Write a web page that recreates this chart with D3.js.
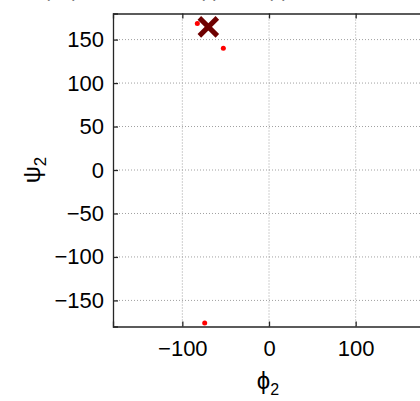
<!DOCTYPE html>
<html><head><meta charset="utf-8">
<script src="https://cdn.jsdelivr.net/npm/d3@7"></script>
<style>
body{margin:0;background:#fff;}
svg{display:block;}
text{font-family:"Liberation Sans",Arial,sans-serif;}
</style></head>
<body>
<svg id="c" width="420" height="401"></svg>
<script>
// data
const phi = [-82.7, -52.7, -74.2];
const psi = [168.5, 140, -176];
const markerPhi = [-70];
const markerPsi = [164.6];
const ticks = [-150, -100, -50, 0, 50, 100, 150];
const xTicks = [-100, 0, 100];

const svg = d3.select("#c");
const x = d3.scaleLinear().domain([-180, 180]).range([113, 425]);
const y = d3.scaleLinear().domain([-180, 180]).range([326.5, 13.5]);
const fmt = d => (d < 0 ? "\u2212" : "") + Math.abs(d);

// grid
const g = svg.append("g");
g.selectAll(".gx").data(xTicks).join("line")
  .attr("x1", d => x(d)).attr("x2", d => x(d))
  .attr("y1", y(180)).attr("y2", y(-180))
  .attr("stroke", "#a0a0a0").attr("stroke-width", 1).attr("stroke-dasharray", "1,2");
g.selectAll(".gy").data(ticks).join("line")
  .attr("x1", x(-180)).attr("x2", x(180))
  .attr("y1", d => y(d)).attr("y2", d => y(d))
  .attr("stroke", "#a0a0a0").attr("stroke-width", 1).attr("stroke-dasharray", "1,2");

// axes
const ax = svg.append("g").attr("transform", `translate(0,${y(-180)})`)
  .call(d3.axisBottom(x).tickValues(xTicks).tickSize(-5).tickPadding(14).tickFormat(fmt));
const axTop = svg.append("g").attr("transform", `translate(0,${y(180)})`)
  .call(d3.axisTop(x).tickValues(xTicks).tickSize(-5).tickFormat(""));
const ay = svg.append("g").attr("transform", `translate(${x(-180)},0)`)
  .call(d3.axisLeft(y).tickValues(ticks).tickSize(-5).tickPadding(9).tickFormat(fmt));
[ax, axTop, ay].forEach(a => {
  a.select(".domain").attr("stroke", "#262626").attr("stroke-width", 1.3);
  a.selectAll(".tick line").attr("stroke", "#262626").attr("stroke-width", 1.3);
  a.selectAll("text").attr("font-size", 22).attr("fill", "#000")
    .attr("font-family", "'Liberation Sans',Arial,sans-serif");
});

// points
svg.append("g").selectAll("circle").data(phi.map((p, i) => [p, psi[i]])).join("circle")
  .attr("cx", d => x(d[0])).attr("cy", d => y(d[1])).attr("r", 2.5).attr("fill", "#ff0000");

// X marker
const s = 9;
const mk = svg.append("g");
markerPhi.forEach((p, i) => {
  const cx = x(p), cy = y(markerPsi[i]);
  mk.append("path")
    .attr("d", `M${cx - s},${cy - s}L${cx + s},${cy + s}M${cx - s},${cy + s}L${cx + s},${cy - s}`)
    .attr("stroke", "#6e0000").attr("stroke-width", 5);
});

// labels
svg.append("text").attr("x", 268).attr("y", 389).attr("font-size", 24).attr("text-anchor", "middle")
  .attr("font-family", "'DejaVu Sans',sans-serif")
  .html('\u03d5<tspan font-size="16" dy="6" font-family="Liberation Sans">2</tspan>');
svg.append("text").attr("transform", "translate(40,170) rotate(-90)").attr("font-size", 24)
  .attr("text-anchor", "middle")
  .html('\u03c8<tspan font-size="17" dy="6">2</tspan>');

// cut-off title remnants (only the very bottom shows)
const tt = svg.append("g").attr("font-size", 18).attr("fill", "#777");
[["(", 44], [")", 72], ["(", 199], [")", 213], ["(", 267], [")", 282]].forEach(d => {
  tt.append("text").attr("x", d[1]).attr("y", -3.3).text(d[0]);
});
</script>
</body></html>
